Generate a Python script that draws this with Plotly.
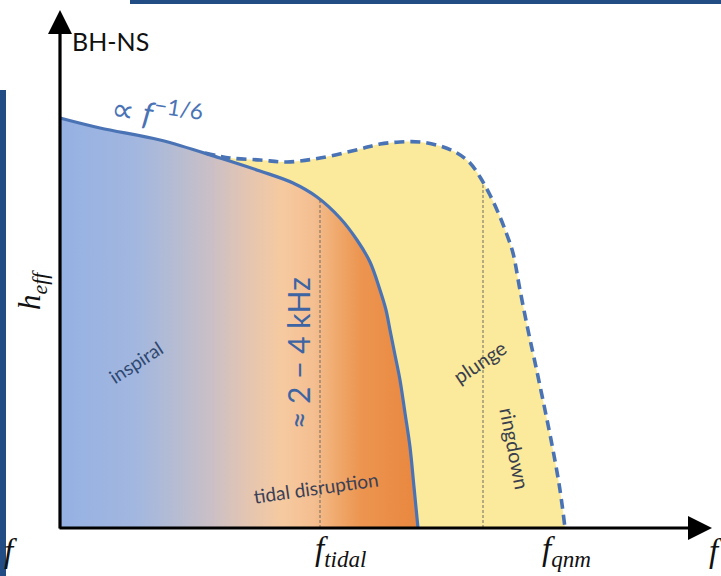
import plotly.graph_objects as go

# ---- data (arbitrary units, origin at the axes crossing) ----
freq_inspiral = [0, 40, 100, 160, 200, 233, 257, 280, 297, 310, 320, 326, 330, 335, 340, 345, 350, 354, 358]
h_inspiral = [410, 400, 388, 370, 357, 345, 331, 310, 288, 266, 238, 218, 198, 173, 148, 115, 81, 41, 0]

freq_bbh = [145, 170, 200, 227, 260, 300, 320, 340, 360, 380, 397, 410, 420, 430, 440, 447, 453, 460, 468, 476, 485, 493, 500, 505]
h_bbh = [375, 370, 368, 366, 370, 379, 384, 386, 386, 382, 375, 365, 351, 333, 311, 293, 275, 238, 198, 161, 118, 78, 38, 0]

marker_freq = [260, 423]
marker_top = [328, 345]
tick_labels = ["<i>f</i><sub><i>tidal</i></sub>", "<i>f</i><sub><i>qnm</i></sub>"]
tick_label_x = [281, 506]

CURVE = "#4A73B5"
YELLOW = "#FBEA9B"
NAVY = "#214C84"

grad = [
    [0.00, "#95B1E3"],
    [0.22, "#A3B7DF"],
    [0.32, "#B5BCD3"],
    [0.42, "#CABFC6"],
    [0.52, "#E3C5B2"],
    [0.62, "#F6CAA0"],
    [0.71, "#F4BE90"],
    [0.77, "#F0AA6E"],
    [0.84, "#EC9550"],
    [1.00, "#E9873F"],
]

fig = go.Figure()

# yellow merger region under the dashed curve
fig.add_trace(go.Scatter(x=freq_bbh, y=h_bbh, mode="lines", line=dict(width=0, shape="spline"),
                         fill="tozeroy", fillcolor=YELLOW, hoverinfo="skip", showlegend=False))
# gradient inspiral region under solid curve
fig.add_trace(go.Scatter(x=freq_inspiral, y=h_inspiral, mode="lines",
                         line=dict(color=CURVE, width=3.2, shape="spline"),
                         fill="tozeroy",
                         fillgradient=dict(type="horizontal", colorscale=grad,
                                           start=freq_inspiral[0], stop=freq_inspiral[-1]),
                         hoverinfo="skip", showlegend=False))
# dashed continuation
fig.add_trace(go.Scatter(x=freq_bbh, y=h_bbh, mode="lines",
                         line=dict(color=CURVE, width=3.6, dash="10px,6px", shape="spline"),
                         hoverinfo="skip", showlegend=False))
# dotted frequency markers
for fx, top in zip(marker_freq, marker_top):
    fig.add_trace(go.Scatter(x=[fx, fx], y=[0, top], mode="lines",
                             line=dict(color="#6E6A60", width=1, dash="3px,2px"),
                             hoverinfo="skip", showlegend=False))

ann = []
# axes arrows
ann.append(dict(x=652, y=0, ax=-2, ay=0, axref="x", ayref="y", xref="x", yref="y", text="",
                showarrow=True, arrowhead=2, arrowsize=1.5, arrowwidth=3.2, arrowcolor="black", standoff=0))
ann.append(dict(x=0, y=518, ax=0, ay=-2, axref="x", ayref="y", xref="x", yref="y", text="",
                showarrow=True, arrowhead=2, arrowsize=1.5, arrowwidth=3.2, arrowcolor="black", standoff=0))

def txt(x, y, s, size, color, angle=0, family="Lato", **kw):
    d = dict(x=x, y=y, xref="x", yref="y", text=s, showarrow=False, textangle=angle,
             font=dict(size=size, color=color, family=family), xanchor="center", yanchor="middle")
    d.update(kw)
    ann.append(d)

txt(50, 487, "BH-NS", 25, "#111111")
txt(97, 416, "∝ <i>f</i><sup>−1/6</sup>", 32, CURVE, angle=9)
txt(-28, 238, "<i>h</i><sub><i>eff</i></sub>", 31, "#111111", angle=-90, family="Liberation Serif")
txt(75, 166, "inspiral", 19, "#2F4870", angle=-33)
txt(238, 175, "≈ 2 − 4 kHz", 30, "#3D64A3", angle=-90)
txt(256, 41, "tidal disruption", 19, "#3A3F55", angle=-8)
txt(419, 166, "plunge", 20, "#3A3F4E", angle=-34)
txt(455, 80, "ringdown", 20, "#3A3F4E", angle=79)
for lx, lab in zip(tick_label_x, tick_labels):
    txt(lx, -23, lab, 33, "#111111", family="Liberation Serif")
txt(655, -23, "<i>f</i>", 33, "#111111", family="Liberation Serif")
txt(-50, -23, "<i>f</i>", 33, "#111111", family="Liberation Serif")

shapes = [
    dict(type="rect", xref="paper", yref="paper", x0=130 / 721, x1=1, y0=1 - 4 / 576, y1=1,
         fillcolor=NAVY, line=dict(width=0)),
    dict(type="rect", xref="paper", yref="paper", x0=0, x1=6 / 721, y0=0, y1=1 - 90 / 576,
         fillcolor=NAVY, line=dict(width=0)),
]

fig.update_layout(
    width=721, height=576, margin=dict(l=0, r=0, t=0, b=0),
    paper_bgcolor="white", plot_bgcolor="white",
    xaxis=dict(range=[-60, 661], visible=False, fixedrange=True),
    yaxis=dict(range=[-48, 528], visible=False, fixedrange=True),
    annotations=ann, shapes=shapes, showlegend=False,
)

fig.write_html("out.html", config={"displayModeBar": False},
               post_script="document.body.style.margin='0';document.body.style.overflow='hidden';")
